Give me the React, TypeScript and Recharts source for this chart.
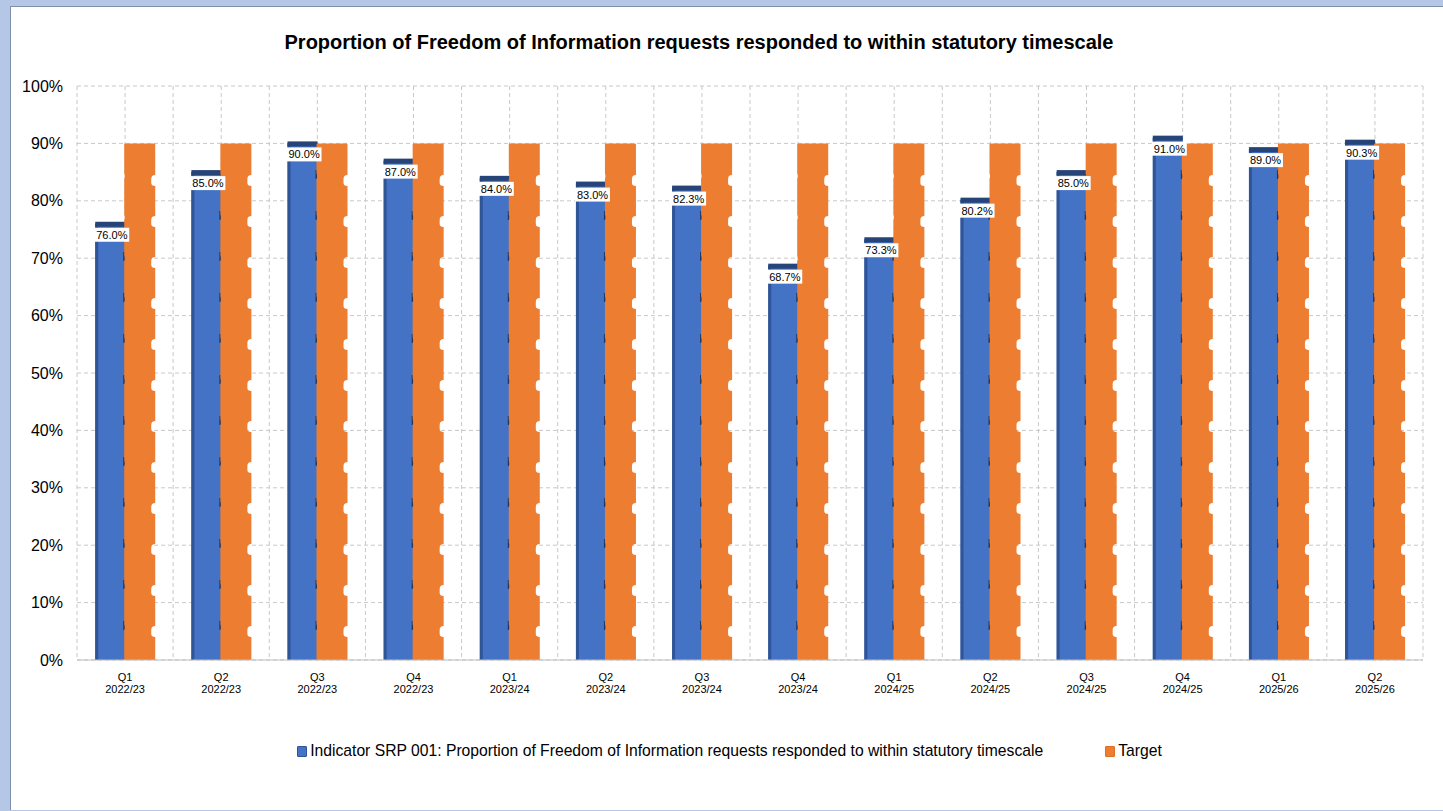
import React from 'react';
import { BarChart, Bar, XAxis, YAxis, CartesianGrid, Legend, LabelList } from 'recharts';

const FONT = '"Liberation Sans", Arial, sans-serif';

const quarters = ['Q1', 'Q2', 'Q3', 'Q4', 'Q1', 'Q2', 'Q3', 'Q4', 'Q1', 'Q2', 'Q3', 'Q4', 'Q1', 'Q2'];
const years = [
  '2022/23', '2022/23', '2022/23', '2022/23',
  '2023/24', '2023/24', '2023/24', '2023/24',
  '2024/25', '2024/25', '2024/25', '2024/25',
  '2025/26', '2025/26',
];
const srp001 = [76.0, 85.0, 90.0, 87.0, 84.0, 83.0, 82.3, 68.7, 73.3, 80.2, 85.0, 91.0, 89.0, 90.3];
const target = [90, 90, 90, 90, 90, 90, 90, 90, 90, 90, 90, 90, 90, 90];
const yTicks = [0, 10, 20, 30, 40, 50, 60, 70, 80, 90, 100];

const data = quarters.map((q, i) => ({
  period: `${q} ${years[i]}`,
  actual: srp001[i],
  target: target[i],
}));

// blue column: dark left edge, dark cap, little shadow ticks on the right side
const ActualBar = (props: any) => {
  const { x, y, width, height } = props;
  if (!height || height <= 0) return null;
  const bottom = y + height;
  const marks: number[] = [];
  for (let off = 34; off < height - 10; off += 41) marks.push(bottom - off);
  return (
    <g>
      <rect x={x - 1} y={y} width={width + 1} height={height} fill="#4472c4" />
      <rect x={x - 1} y={y} width={3} height={height} fill="#2f5597" />
      {marks.map((m) => (
        <rect key={m} x={x + width - 2} y={m - 5} width={2} height={9} fill="#203864" />
      ))}
      <rect x={x - 1} y={y - 2} width={width + 1} height={5} fill="#264478" />
    </g>
  );
};

// orange column with ragged edges
const TargetBar = (props: any) => {
  const { x, y, width, height, fill } = props;
  if (!height || height <= 0) return null;
  const bottom = y + height;
  const x0 = x - 1;
  const x1 = x + width + 1;
  const notches: number[] = [];
  for (let off = 28; off < height - 8; off += 41) notches.push(bottom - off);
  notches.sort((a, b) => a - b);
  let d = `M${x0},${y + 1} Q${x0},${y} ${x0 + 1},${y} L${x1 - 1},${y} Q${x1},${y} ${x1},${y + 1}`;
  notches.forEach((c) => {
    d += ` L${x1},${c - 6} Q${x1 - 4},${c - 6} ${x1 - 4},${c - 2} L${x1 - 4},${c + 2} Q${x1 - 4},${c + 5} ${x1},${c + 5}`;
  });
  d += ` L${x1},${bottom} L${x0},${bottom}`;
  // slight bulges on the left side
  [...notches].reverse().forEach((c) => {
    d += ` L${x0},${c - 2} Q${x0 + 1},${c - 4} ${x0},${c - 8}`;
  });
  d += ' Z';
  return <path d={d} fill={fill} />;
};

const ValueLabel = (props: any) => {
  const { x, y, value } = props;
  const text = `${Number(value).toFixed(1)}%`;
  return (
    <g>
      <rect x={x - 2} y={y + 4} width={35} height={14} fill="#ffffff" />
      <text x={x} y={y + 15} fontSize={11} fontFamily={FONT} fill="#000">
        {text}
      </text>
    </g>
  );
};

const PeriodTick = (props: any) => {
  const { x, y, payload } = props;
  const [q, yr] = String(payload.value).split(' ');
  return (
    <g>
      <text x={x} y={y + 13} textAnchor="middle" fontSize={11} fontFamily={FONT} fill="#000">
        {q}
      </text>
      <text x={x} y={y + 25} textAnchor="middle" fontSize={11} fontFamily={FONT} fill="#000">
        {yr}
      </text>
    </g>
  );
};

const renderLegend = (props: any) => {
  const { payload } = props;
  return (
    <div
      style={{
        display: 'flex',
        justifyContent: 'center',
        gap: 62,
        fontFamily: FONT,
        fontSize: 15.7,
        color: '#000',
      }}
    >
      {payload.map((entry: any) => (
        <span key={entry.value} style={{ display: 'flex', alignItems: 'center' }}>
          <span
            style={{
              display: 'inline-block',
              width: 8,
              height: 9,
              background: entry.color,
              border: `1px solid ${entry.dataKey === 'actual' ? '#2f5597' : '#e07020'}`,
              borderRadius: 1,
              marginRight: 3,
            }}
          />
          {entry.value}
        </span>
      ))}
    </div>
  );
};

export default function App() {
  return (
    <div
      style={{
        position: 'absolute',
        left: 0,
        top: 0,
        width: 1443,
        height: 811,
        background: '#b4c7e7',
        overflow: 'hidden',
      }}
    >
      <div
        style={{
          position: 'absolute',
          left: 10,
          top: 6,
          width: 1440,
          height: 803,
          background: '#ffffff',
          borderLeft: '1px solid #7f8fa9',
          borderTop: '1px solid #7f8fa9',
        }}
      />
      <div
        style={{
          position: 'absolute',
          left: 0,
          top: 30,
          width: 1398,
          textAlign: 'center',
          fontFamily: FONT,
          fontWeight: 'bold',
          fontSize: 20,
          lineHeight: '24px',
          color: '#000',
        }}
      >
        Proportion of Freedom of Information requests responded to within statutory timescale
      </div>
      <div style={{ position: 'absolute', left: 0, top: 0 }}>
        <BarChart
          width={1443}
          height={811}
          data={data}
          margin={{ top: 86, right: 20, left: 11, bottom: 121 }}
          barCategoryGap="20%"
          barGap={0}
        >
          <CartesianGrid
            stroke="#c8c8c8"
            strokeDasharray="4 3"
            verticalCoordinatesGenerator={({ offset }: any) =>
              Array.from({ length: quarters.length * 2 + 1 }, (_, i) =>
                offset.left + (offset.width * i) / (quarters.length * 2)
              )
            }
          />
          <XAxis
            dataKey="period"
            height={30}
            interval={0}
            axisLine={{ stroke: '#bfbfbf' }}
            tickLine={false}
            tick={<PeriodTick />}
          />
          <YAxis
            width={66}
            domain={[0, 100]}
            ticks={yTicks}
            tickFormatter={(v: number) => `${v}%`}
            axisLine={false}
            tickLine={false}
            tickSize={0}
            tickMargin={14}
            tick={{ fontSize: 16, fontFamily: FONT, fill: '#000' }}
          />
          <Legend
            layout="horizontal"
            verticalAlign="middle"
            align="center"
            wrapperStyle={{ top: 742, left: 8, width: 1443 }}
            content={renderLegend}
          />
          <Bar
            dataKey="actual"
            name="Indicator SRP 001: Proportion of Freedom of Information requests responded to within statutory timescale"
            fill="#4472c4"
            shape={<ActualBar />}
            isAnimationActive={false}
          >
            <LabelList dataKey="actual" content={<ValueLabel />} />
          </Bar>
          <Bar
            dataKey="target"
            name="Target"
            fill="#ed7d31"
            shape={<TargetBar />}
            isAnimationActive={false}
          />
        </BarChart>
      </div>
    </div>
  );
}
